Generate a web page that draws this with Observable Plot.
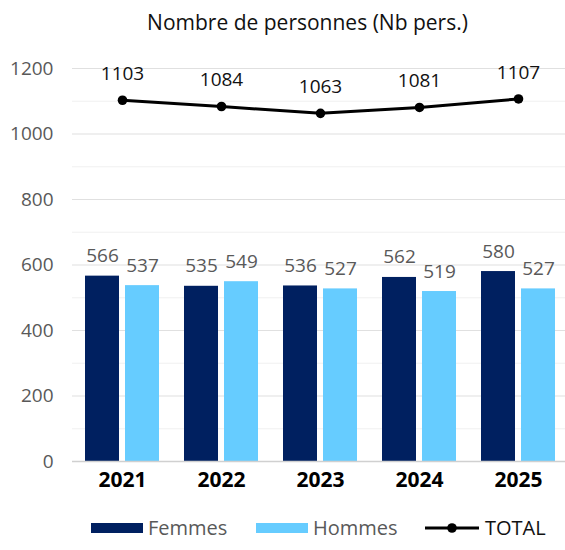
<!DOCTYPE html>
<html>
<head>
<meta charset="utf-8">
<script src="https://cdn.jsdelivr.net/npm/d3@7"></script>
<script src="https://cdn.jsdelivr.net/npm/@observablehq/plot@0.6"></script>
<style>
  body { margin: 0; background: #fff; font-family: "Open Sans", sans-serif; }
  #wrap { width: 565px; height: 550px; position: relative; overflow: hidden; }
  #title { height: 40px; line-height: 44px; font-size: 21px; color: #111; text-align: center; padding-left: 50px; box-sizing: border-box; white-space: nowrap; }
  #legend { position: relative; height: 45px; font-size: 20px; color: #595959; }
  .sw { width: 52px; height: 10px; margin-right: 5px; }
  .item { position: absolute; top: 0; height: 45px; display: flex; align-items: center; white-space: nowrap; }
</style>
</head>
<body>
<div id="wrap">
  <div id="title">Nombre de personnes (Nb pers.)</div>
  <div id="chart"></div>
  <div id="legend"></div>
</div>
<script>
const years = ["2021", "2022", "2023", "2024", "2025"];
const femmes = [566, 535, 536, 562, 580];
const hommes = [537, 549, 527, 519, 527];
const total = [1103, 1084, 1063, 1081, 1107];
const yTicks = [0, 200, 400, 600, 800, 1000, 1200];
const yMinor = [100, 300, 500, 700, 900, 1100];
const seriesNames = ["Femmes", "Hommes", "TOTAL"];
const colors = ["#002060", "#66CCFF", "#000000"];
const legendLeft = [91, 256, 425];

const fData = years.map((y, i) => ({year: y, value: femmes[i]}));
const hData = years.map((y, i) => ({year: y, value: hommes[i]}));
const tData = years.map((y, i) => ({year: y, value: total[i]}));

const chart = Plot.plot({
  width: 565,
  height: 465,
  marginLeft: 72,
  marginRight: -3,
  marginTop: 28,
  marginBottom: 44,
  style: {fontFamily: "'Open Sans', sans-serif", background: "#fff", overflow: "hidden"},
  x: {domain: years, paddingInner: 0.25, paddingOuter: 0.126, label: null},
  y: {domain: [0, 1200], label: null},
  marks: [
    Plot.ruleY(yMinor, {stroke: "#f0f0f0", strokeWidth: 1.2}),
    Plot.ruleY(yTicks.filter(d => d > 0), {stroke: "#e0e0e0", strokeWidth: 1.2}),
    Plot.barY(fData, {x: "year", y: "value", fill: colors[0], insetRight: 40, insetLeft: 0}),
    Plot.barY(hData, {x: "year", y: "value", fill: colors[1], insetLeft: 40, insetRight: 0}),
    Plot.ruleY([0], {stroke: "#d0d0d0", strokeWidth: 1.5}),
    Plot.text(fData, {x: "year", y: "value", text: d => String(d.value), dx: -20, dy: -14, lineAnchor: "bottom", fontSize: 19, fill: "#595959"}),
    Plot.text(hData, {x: "year", y: "value", text: d => String(d.value), dx: 20, dy: -14, lineAnchor: "bottom", fontSize: 19, fill: "#595959"}),
    Plot.line(tData, {x: "year", y: "value", stroke: colors[2], strokeWidth: 3}),
    Plot.dot(tData, {x: "year", y: "value", fill: colors[2], r: 4.8}),
    Plot.text(tData, {x: "year", y: "value", text: d => String(d.value), dy: -20, lineAnchor: "bottom", fontSize: 19, fill: "#111"}),
    Plot.axisY(yTicks, {tickSize: 0, tickPadding: 19, fontSize: 19, fill: "#595959", tickFormat: d => String(d), label: null}),
    Plot.axisX(years, {tickSize: 0, tickPadding: 11, fontSize: 21, fontWeight: "bold", fill: "#000", label: null})
  ]
});
document.getElementById("chart").appendChild(chart);

const legend = document.getElementById("legend");
seriesNames.forEach((name, i) => {
  const item = document.createElement("div");
  item.className = "item";
  item.style.left = legendLeft[i] + "px";
  if (name === "TOTAL") {
    item.innerHTML = `<svg width="54" height="14" style="margin-right:6px"><line x1="0" y1="7" x2="54" y2="7" stroke="${colors[i]}" stroke-width="3"/><circle cx="27" cy="7" r="4.8" fill="${colors[i]}"/></svg><span style="color:#111">${name}</span>`;
  } else {
    item.innerHTML = `<div class="sw" style="background:${colors[i]}"></div><span>${name}</span>`;
  }
  legend.appendChild(item);
});
</script>
</body>
</html>
